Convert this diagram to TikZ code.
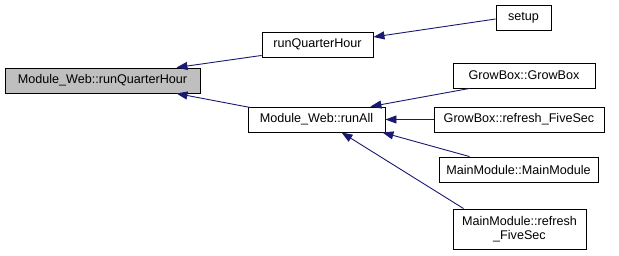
\documentclass[tikz,border=0pt]{standalone}
\usepackage{fontspec}
\setmainfont{Liberation Sans}
\usetikzlibrary{arrows.meta,calc}
\definecolor{edgeblue}{HTML}{191970}
\definecolor{rootgray}{HTML}{BFBFBF}
\tikzset{
  fn/.style={draw=black, line width=0.9pt, fill=white, inner sep=0pt,
    minimum height=25pt, align=center,
    font=\fontsize{12.6}{14.5}\selectfont},
  rootfn/.style={fn, fill=rootgray},
  call/.style={draw=edgeblue, line width=0.9pt,
    -{Triangle[length=11pt,width=8pt]}, edgeblue}
}
\begin{document}
\begin{tikzpicture}[x=1pt,y=-1pt]
\useasboundingbox (0,0) rectangle (619,255);
% function boxes
\node[rootfn, minimum width=195pt] (root) at (102.5,80.5) {Module\_Web::runQuarterHour};
\node[fn, minimum width=111pt] (rqh) at (317.5,44.5) {runQuarterHour};
\node[fn, minimum width=137pt] (runall) at (316.5,119.5) {Module\_Web::runAll};
\node[fn, minimum width=55pt] (setup) at (523.5,17.5) {setup};
\node[fn, minimum width=142pt] (gbctor) at (524,75.5) {GrowBox::GrowBox};
\node[fn, minimum width=170pt] (gbfive) at (519,119.5) {GrowBox::refresh\_FiveSec};
\node[fn, minimum width=159pt] (mmctor) at (518.5,169.5) {MainModule::MainModule};
\node[fn, minimum width=133pt, minimum height=40pt] (mmfive) at (519.5,229) {MainModule::refresh\\\_FiveSec};
% caller edges
\draw[call] ($(rqh.south west)+(0,-2)$) -- ($(root.north east)+(-24,0)$);
\draw[call] ($(runall.north west)+(3,1)$) -- ($(root.south east)+(-24,0)$);
\draw[call] ($(setup.west)+(0,1.5)$) -- ($(rqh.east)+(0,-7.5)$);
\draw[call] ($(gbctor.south west)+(17,0)$) -- ($(runall.north east)+(-15,0)$);
\draw[call] (gbfive.west) -- (runall.east);
\draw[call] ($(mmctor.north west)+(31,0)$) -- ($(runall.south east)+(-3,0)$);
\draw[call] ($(mmfive.north west)+(11,0)$) -- ($(runall.south)+(25,0)$);
\end{tikzpicture}
\end{document}
